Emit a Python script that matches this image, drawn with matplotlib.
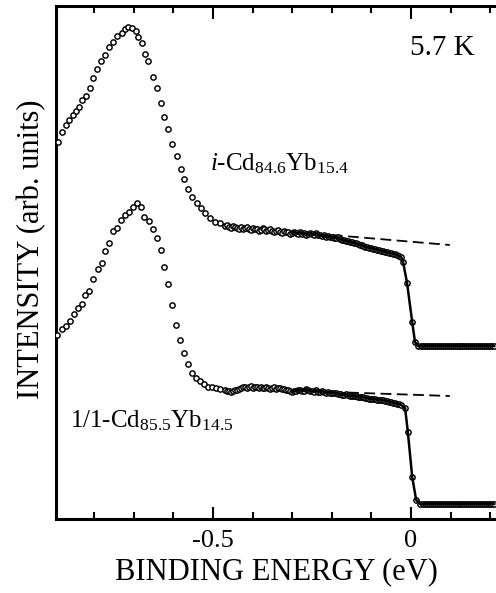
import numpy as np
import matplotlib
matplotlib.use("Agg")
import matplotlib.pyplot as plt

plt.rcParams['font.family'] = ['Liberation Serif', 'DejaVu Serif']
plt.rcParams['mathtext.fontset'] = 'custom'
plt.rcParams['mathtext.rm'] = 'Liberation Serif'
plt.rcParams['mathtext.it'] = 'Liberation Serif:italic'

# --- i-Cd84.6Yb15.4 (upper), 4f peak region
E_peak_i = [-0.891, -0.881, -0.871, -0.864, -0.854, -0.846, -0.838, -0.831, -0.821, -0.811,
            -0.803, -0.793, -0.783, -0.773, -0.763, -0.753, -0.742, -0.730, -0.722, -0.715,
            -0.705, -0.694, -0.689, -0.679, -0.672, -0.664, -0.652, -0.641, -0.631, -0.624,
            -0.614, -0.604, -0.591, -0.581, -0.573, -0.563, -0.553, -0.540, -0.530, -0.520,
            -0.508, -0.495, -0.482]
I_peak_i = [377, 387, 394, 399, 404, 408, 412, 419, 423, 431,
            441, 450, 458, 464, 472, 477, 483, 486, 490, 492,
            491, 488, 482, 476, 465, 458, 442, 431, 416, 402,
            390, 375, 363, 350, 340, 330, 322, 316, 311, 306,
            301, 297, 296]

# --- 1/1-Cd85.5Yb14.5 (lower), 4f peak region
E_peak_a = [-0.894, -0.881, -0.871, -0.861, -0.851, -0.841, -0.831, -0.823, -0.813, -0.803,
            -0.790, -0.780, -0.773, -0.763, -0.753, -0.742, -0.732, -0.722, -0.712, -0.702,
            -0.692, -0.682, -0.674, -0.662, -0.652, -0.641, -0.631, -0.624, -0.614, -0.604,
            -0.593, -0.583, -0.573, -0.563, -0.553, -0.543, -0.533, -0.523, -0.513, -0.503,
            -0.492, -0.482]
I_peak_a = [184, 190, 193, 198, 205, 211, 215, 224, 228, 240,
            250, 256, 268, 276, 288, 291, 299, 304, 307, 312,
            316, 312, 302, 298, 290, 281, 269, 252, 235, 214,
            194, 179, 166, 155, 146, 141, 138, 135, 132, 132,
            131, 130]

# valence band region (same energies for both samples)
E_flat = [-0.470, -0.465, -0.460, -0.455, -0.450, -0.445, -0.440, -0.435, -0.430, -0.425,
          -0.420, -0.415, -0.410, -0.405, -0.400, -0.395, -0.390, -0.385, -0.380, -0.375,
          -0.370, -0.365, -0.360, -0.355, -0.350, -0.345, -0.340, -0.335, -0.330, -0.325,
          -0.320, -0.315, -0.310, -0.305, -0.300, -0.295, -0.290, -0.285, -0.280, -0.275,
          -0.270, -0.265, -0.260, -0.255, -0.250, -0.245, -0.240, -0.235, -0.230, -0.225,
          -0.220, -0.215, -0.210, -0.205, -0.200, -0.195, -0.190, -0.185, -0.180, -0.175,
          -0.170, -0.165, -0.160, -0.155, -0.150, -0.145, -0.140, -0.135, -0.130, -0.125,
          -0.120, -0.115, -0.110, -0.105, -0.100, -0.095, -0.090, -0.085, -0.080, -0.075,
          -0.070, -0.065, -0.060, -0.055, -0.050, -0.045, -0.040, -0.035, -0.030, -0.025]
I_flat_i = [293, 294, 292, 291, 293, 292, 291, 290, 292, 290,
            291, 292, 290, 289, 291, 290, 290, 288, 289, 291,
            290, 288, 289, 290, 288, 287, 288, 289, 287, 286,
            288, 287, 287, 285, 286, 287, 286, 285, 287, 285,
            286, 284, 285, 286, 285, 284, 286, 284, 284, 283,
            284, 282, 283, 282, 282, 281, 281, 282, 280, 279,
            279, 278, 278, 277, 277, 276, 276, 275, 274, 274,
            273, 272, 272, 271, 271, 270, 270, 269, 269, 268,
            268, 267, 267, 266, 266, 265, 265, 264, 263, 262]
I_flat_a = [129, 128, 128, 127, 128, 129, 129, 130, 131, 132,
            132, 131, 132, 133, 131, 132, 132, 131, 132, 131,
            131, 132, 131, 130, 131, 132, 130, 131, 131, 130,
            130, 129, 129, 128, 127, 128, 128, 129, 129, 128,
            128, 130, 129, 128, 128, 127, 129, 127, 127, 128,
            127, 126, 127, 126, 126, 126, 126, 125, 125, 124,
            124, 125, 124, 123, 123, 123, 123, 122, 122, 122,
            122, 121, 121, 120, 120, 120, 120, 119, 119, 119,
            119, 118, 118, 117, 117, 116, 116, 115, 115, 114]

# Fermi edge
E_edge_i = [-0.020, -0.010, 0.003, 0.010, 0.018, 0.025]
I_edge_i = [257, 236, 197, 177, 173, 173]
E_edge_a = [-0.015, -0.008, 0.003, 0.013, 0.023]
I_edge_a = [111, 87, 42, 19, 15]

# above E_F
E_post = [0.030, 0.035, 0.040, 0.045, 0.050, 0.055, 0.060, 0.065, 0.070, 0.075,
          0.080, 0.085, 0.090, 0.095, 0.100, 0.105, 0.110, 0.115, 0.120, 0.125,
          0.130, 0.135, 0.140, 0.145, 0.150, 0.155, 0.160, 0.165, 0.170, 0.175,
          0.180, 0.185, 0.190, 0.195, 0.200, 0.205, 0.210]
I_post_i = [173, 173, 173, 173, 173, 173, 173, 173, 173, 173,
            173, 173, 173, 173, 173, 173, 173, 173, 173, 173,
            173, 173, 173, 173, 173, 173, 173, 173, 173, 173,
            173, 173, 173, 173, 173, 173, 173]
I_post_a = [15, 15, 15, 15, 15, 15, 15, 15, 15, 15,
            15, 15, 15, 15, 15, 15, 15, 15, 15, 15,
            15, 15, 15, 15, 15, 15, 15, 15, 15, 15,
            15, 15, 15, 15, 15, 15, 15]

# linear extrapolation of the DOS (dashed)
E_lin = [-0.20, 0.098]
I_lin_i = [284, 274]
I_lin_a = [127, 123]

fig = plt.figure(figsize=(4.96, 5.93), dpi=100)
ax = fig.add_axes([56/496, 74/593, 440/496, 513/593])

spectra = [
    (E_peak_i + E_flat + E_edge_i + E_post, I_peak_i + I_flat_i + I_edge_i + I_post_i, I_lin_i),
    (E_peak_a + E_flat + E_edge_a + E_post, I_peak_a + I_flat_a + I_edge_a + I_post_a, I_lin_a),
]
for E, I, I_lin in spectra:
    E = np.array(E)
    I = np.array(I)
    ax.plot(E_lin, I_lin, color='black', lw=1.3, ls=(0, (6, 3)))
    ax.plot(E, I, 'o', mfc='white', mec='black', ms=3.8, mew=1.05, zorder=3)
    m = E >= -0.30
    ax.plot(E[m], I[m], '-', color='black', lw=1.8, zorder=4)

ax.set_xlim(-0.8965, 0.2146)
ax.set_ylim(0, 513)
ax.set_xticks([-0.5, 0])
ax.set_xticklabels(['-0.5', '0'])
ax.set_xticks(np.arange(-0.8, 0.25, 0.1), minor=True)
ax.set_yticks([])
ax.tick_params(axis='x', which='both', direction='in', top=True, bottom=True,
               width=1.5, labelsize=19, pad=8)
ax.tick_params(axis='x', which='major', length=9)
ax.tick_params(axis='x', which='minor', length=5)
for s in ['left', 'bottom', 'top']:
    ax.spines[s].set_linewidth(2.2)
ax.spines['right'].set_visible(False)

ax.set_xlabel('BINDING ENERGY (eV)', fontsize=22, labelpad=4)
fig.text(32/496, 1 - 249/593, 'INTENSITY (arb. units)', rotation=90,
         ha='center', va='center', fontsize=22)

ax.text(-0.003, 464, '5.7 K', fontsize=21, ha='left', va='baseline')
ax.text(-0.507, 349, r'$\mathit{i}$-Cd$_{84.6}$Yb$_{15.4}$', fontsize=18)
ax.text(-0.861, 92, r'1/1-Cd$_{85.5}$Yb$_{14.5}$', fontsize=18)

fig.savefig('out.png', dpi=100)
